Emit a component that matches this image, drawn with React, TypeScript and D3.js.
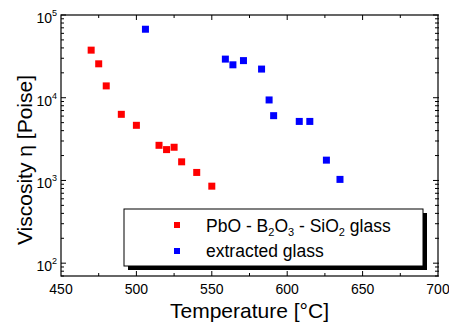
import React, { useRef, useEffect } from 'react';
import * as d3 from 'd3';

// PbO - B2O3 - SiO2 glass
const pbTemps = [470, 475, 480, 490, 500, 515, 520, 525, 530, 540, 550];
const pbVisc = [37600, 25700, 13900, 6300, 4640, 2660, 2360, 2520, 1680, 1250, 853];

// extracted glass
const exTemps = [506, 559, 564, 571, 583, 588, 591, 608, 615, 626, 635];
const exVisc = [67300, 29300, 25000, 28100, 22200, 9400, 6070, 5170, 5170, 1760, 1030];

const xTicks = [450, 500, 550, 600, 650, 700];
const yTicks = [100, 1000, 10000, 100000];

const App = () => {
    const svgRef = useRef<SVGSVGElement>(null);

    useEffect(() => {
        const svg = d3.select(svgRef.current);
        svg.selectAll('*').remove();

        const left = 61, right = 438, top = 15, bottom = 276;
        const font = 'Arial, "Liberation Sans", sans-serif';

        const x = d3.scaleLinear().domain([450, 700]).range([left, right]);
        const y = d3.scaleLog().domain([70, 100000]).range([bottom, top]);

        // frame
        svg.append('rect')
            .attr('x', left).attr('y', top)
            .attr('width', right - left).attr('height', bottom - top)
            .attr('fill', 'none').attr('stroke', '#000').attr('stroke-width', 1.2);

        // x ticks (inward, top and bottom)
        const xMinor = d3.range(475, 700, 50);
        const tickG = svg.append('g').attr('stroke', '#000').attr('stroke-width', 1);
        xTicks.slice(1, -1).forEach(t => {
            tickG.append('line').attr('x1', x(t)).attr('x2', x(t)).attr('y1', bottom).attr('y2', bottom - 5);
            tickG.append('line').attr('x1', x(t)).attr('x2', x(t)).attr('y1', top).attr('y2', top + 5);
        });
        xMinor.forEach(t => {
            tickG.append('line').attr('x1', x(t)).attr('x2', x(t)).attr('y1', bottom).attr('y2', bottom - 3);
            tickG.append('line').attr('x1', x(t)).attr('x2', x(t)).attr('y1', top).attr('y2', top + 3);
        });

        // y ticks (log, inward on both sides)
        const yMinor: number[] = [];
        [10, 100, 1000, 10000].forEach(d => {
            for (let k = 2; k <= 9; k++) if (d * k >= 70 && d * k < 100000) yMinor.push(d * k);
        });
        yTicks.forEach(t => {
            tickG.append('line').attr('x1', left).attr('x2', left + 5).attr('y1', y(t)).attr('y2', y(t));
            tickG.append('line').attr('x1', right - 5).attr('x2', right + 1).attr('y1', y(t)).attr('y2', y(t));
        });
        yMinor.forEach(t => {
            tickG.append('line').attr('x1', left).attr('x2', left + 3).attr('y1', y(t)).attr('y2', y(t));
            tickG.append('line').attr('x1', right - 3).attr('x2', right + 1).attr('y1', y(t)).attr('y2', y(t));
        });

        // tick labels
        svg.append('g').selectAll('text')
            .data(xTicks).enter().append('text')
            .attr('x', d => x(d)).attr('y', bottom + 18)
            .attr('text-anchor', 'middle')
            .attr('font-family', font).attr('font-size', 14)
            .text(d => d);

        const yl = svg.append('g').selectAll('text')
            .data(yTicks).enter().append('text')
            .attr('x', left - 4).attr('y', d => y(d) + 8)
            .attr('text-anchor', 'end')
            .attr('font-family', font).attr('font-size', 14);
        yl.append('tspan').text('10');
        yl.append('tspan').attr('dy', -7).attr('font-size', 9).text(d => Math.round(Math.log10(d)));

        // axis titles
        svg.append('text')
            .attr('x', (left + right) / 2).attr('y', 318)
            .attr('text-anchor', 'middle')
            .attr('font-family', font).attr('font-size', 21)
            .text('Temperature [°C]');

        svg.append('text')
            .attr('transform', 'translate(32,160) rotate(-90)')
            .attr('text-anchor', 'middle')
            .attr('font-family', font).attr('font-size', 21)
            .text('Viscosity η [Poise]');

        // points
        const size = 7;
        svg.append('g').selectAll('rect')
            .data(pbTemps).enter().append('rect')
            .attr('x', (d) => x(d) - size / 2)
            .attr('y', (d, i) => y(pbVisc[i]) - size / 2)
            .attr('width', size).attr('height', size)
            .attr('fill', '#ff0000');

        svg.append('g').selectAll('rect')
            .data(exTemps).enter().append('rect')
            .attr('x', (d) => x(d) - size / 2)
            .attr('y', (d, i) => y(exVisc[i]) - size / 2)
            .attr('width', size).attr('height', size)
            .attr('fill', '#0000ff');

        // legend
        const lg = svg.append('g');
        lg.append('rect').attr('x', 128).attr('y', 213).attr('width', 299).attr('height', 57).attr('fill', '#000');
        lg.append('rect').attr('x', 124).attr('y', 209).attr('width', 299).attr('height', 57)
            .attr('fill', '#fff').attr('stroke', '#000').attr('stroke-width', 1);
        lg.append('rect').attr('x', 174).attr('y', 222).attr('width', 6).attr('height', 6).attr('fill', '#ff0000');
        lg.append('rect').attr('x', 174).attr('y', 248).attr('width', 6).attr('height', 6).attr('fill', '#0000ff');

        const t1 = lg.append('text').attr('x', 206).attr('y', 232)
            .attr('font-family', font).attr('font-size', 17.5);
        t1.append('tspan').text('PbO - B');
        t1.append('tspan').attr('font-size', 11).attr('dy', 4).text('2');
        t1.append('tspan').attr('dy', -4).text('O');
        t1.append('tspan').attr('font-size', 11).attr('dy', 4).text('3');
        t1.append('tspan').attr('dy', -4).text(' - SiO');
        t1.append('tspan').attr('font-size', 11).attr('dy', 4).text('2');
        t1.append('tspan').attr('dy', -4).text(' glass');

        lg.append('text').attr('x', 206).attr('y', 257)
            .attr('font-family', font).attr('font-size', 17.5)
            .text('extracted glass');
    }, []);

    return <svg ref={svgRef} width={449} height={330} style={{ position: 'absolute', left: 0, top: 0, background: '#fff' }}></svg>;
};

export default App;
